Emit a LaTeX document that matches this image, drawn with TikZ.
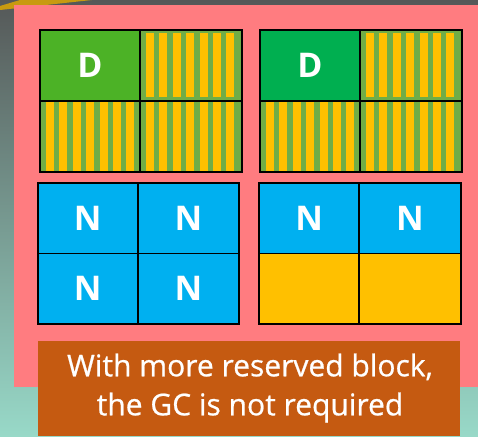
\documentclass[tikz,border=0pt]{standalone}
\usepackage{fontspec}
\setmainfont{Open Sans}
\newfontfamily\notefont{Open Sans}[FakeBold=0.7]
\definecolor{bggray}{HTML}{555858}
\definecolor{bgmid}{HTML}{9FB8B0}
\definecolor{bgteal}{HTML}{98D9C8}
\definecolor{pinkpanel}{HTML}{FF7C80}
\definecolor{dgreenA}{HTML}{4CB226}
\definecolor{dgreenB}{HTML}{00AF50}
\definecolor{stripebg}{HTML}{70AD47}
\definecolor{gold}{HTML}{FFC000}
\definecolor{nblue}{HTML}{00B0F0}
\definecolor{boxorange}{HTML}{C55A11}
\definecolor{goldtri}{HTML}{C89A10}
\tikzset{
  cell/.style={draw=black, line width=1.6pt, anchor=north west, inner sep=0pt, outer sep=0pt,
    minimum width=#1, text=white, font=\bfseries\fontsize{34}{34}\selectfont},
  grid/.style={draw=black, line width=1.8pt},
  stripe/.style={fill=gold}
}
\newcommand{\mystripes}[4]{% x0, y0, height, (unused)
  \foreach \i in {0,...,6}{\fill[stripe] ({#1+6+\i*13.4},{#2}) rectangle ++(8,#3);}}
\begin{document}
\begin{tikzpicture}[x=1pt,y=-1pt]
\useasboundingbox (0,0) rectangle (478,436);
% background
\shade[top color=bggray, middle color=bgmid, bottom color=bgteal] (0,0) rectangle (478,436);
\fill[goldtri] (0,10) -- (0,6) -- (20,0) -- (92,0) -- cycle;
% pink panel
\fill[pinkpanel] (14,5) rectangle (478,387);

% ---- top-left grid ----
\node[cell=100pt, minimum height=70.7pt, fill=dgreenA] (tlA) at (40,30) {D};
\node[cell=101.7pt, minimum height=70.7pt, fill=stripebg] (tlB) at (140,30) {};
\node[cell=100pt, minimum height=71pt, fill=stripebg] (tlC) at (40,100.7) {};
\node[cell=101.7pt, minimum height=71pt, fill=stripebg] (tlD) at (140,100.7) {};
\mystripes{140}{33.3}{63.4}{}
\mystripes{40}{101}{70}{}
\mystripes{140}{101}{70}{}
\draw[grid] (tlA.north west) rectangle (tlD.south east);
\draw[grid] (tlA.north east) -- (tlC.south east);
\draw[grid] (tlA.south west) -- (tlB.south east);

% ---- top-right grid ----
\node[cell=100pt, minimum height=70.7pt, fill=dgreenB] (trA) at (260,30) {D};
\node[cell=101.7pt, minimum height=70.7pt, fill=stripebg] (trB) at (360,30) {};
\node[cell=100pt, minimum height=71pt, fill=stripebg] (trC) at (260,100.7) {};
\node[cell=101.7pt, minimum height=71pt, fill=stripebg] (trD) at (360,100.7) {};
\mystripes{360}{33.3}{63.4}{}
\mystripes{260}{101}{70}{}
\mystripes{360}{101}{70}{}
\draw[grid] (trA.north west) rectangle (trD.south east);
\draw[grid] (trA.north east) -- (trC.south east);
\draw[grid] (trA.south west) -- (trB.south east);

% ---- bottom-left grid ----
\node[cell=100pt, minimum height=70pt, fill=nblue] (blA) at (37.7,183.3) {N};
\node[cell=101.6pt, minimum height=70pt, fill=nblue] (blB) at (137.7,183.3) {N};
\node[cell=100pt, minimum height=70.7pt, fill=nblue] (blC) at (37.7,253.3) {N};
\node[cell=101.6pt, minimum height=70.7pt, fill=nblue] (blD) at (137.7,253.3) {N};
\draw[grid] (blA.north west) rectangle (blD.south east);

% ---- bottom-right grid ----
\node[cell=99.7pt, minimum height=70pt, fill=nblue] (brA) at (259.3,183.3) {N};
\node[cell=102pt, minimum height=70pt, fill=nblue] (brB) at (359,183.3) {N};
\node[cell=99.7pt, minimum height=70.7pt, fill=gold] (brC) at (259.3,253.3) {};
\node[cell=102pt, minimum height=70.7pt, fill=gold] (brD) at (359,253.3) {};
\draw[grid] (brA.north west) rectangle (brD.south east);

% ---- orange note ----
\node[fill=boxorange, anchor=north west, minimum width=422pt, minimum height=95pt, inner sep=0pt] (note) at (38,341) {};
\node[text=white, align=center, font=\notefont\fontsize{30}{39}\selectfont, anchor=center] (notetext) at (250,388) {With more reserved block,\\the GC is not required};
\end{tikzpicture}
\end{document}
